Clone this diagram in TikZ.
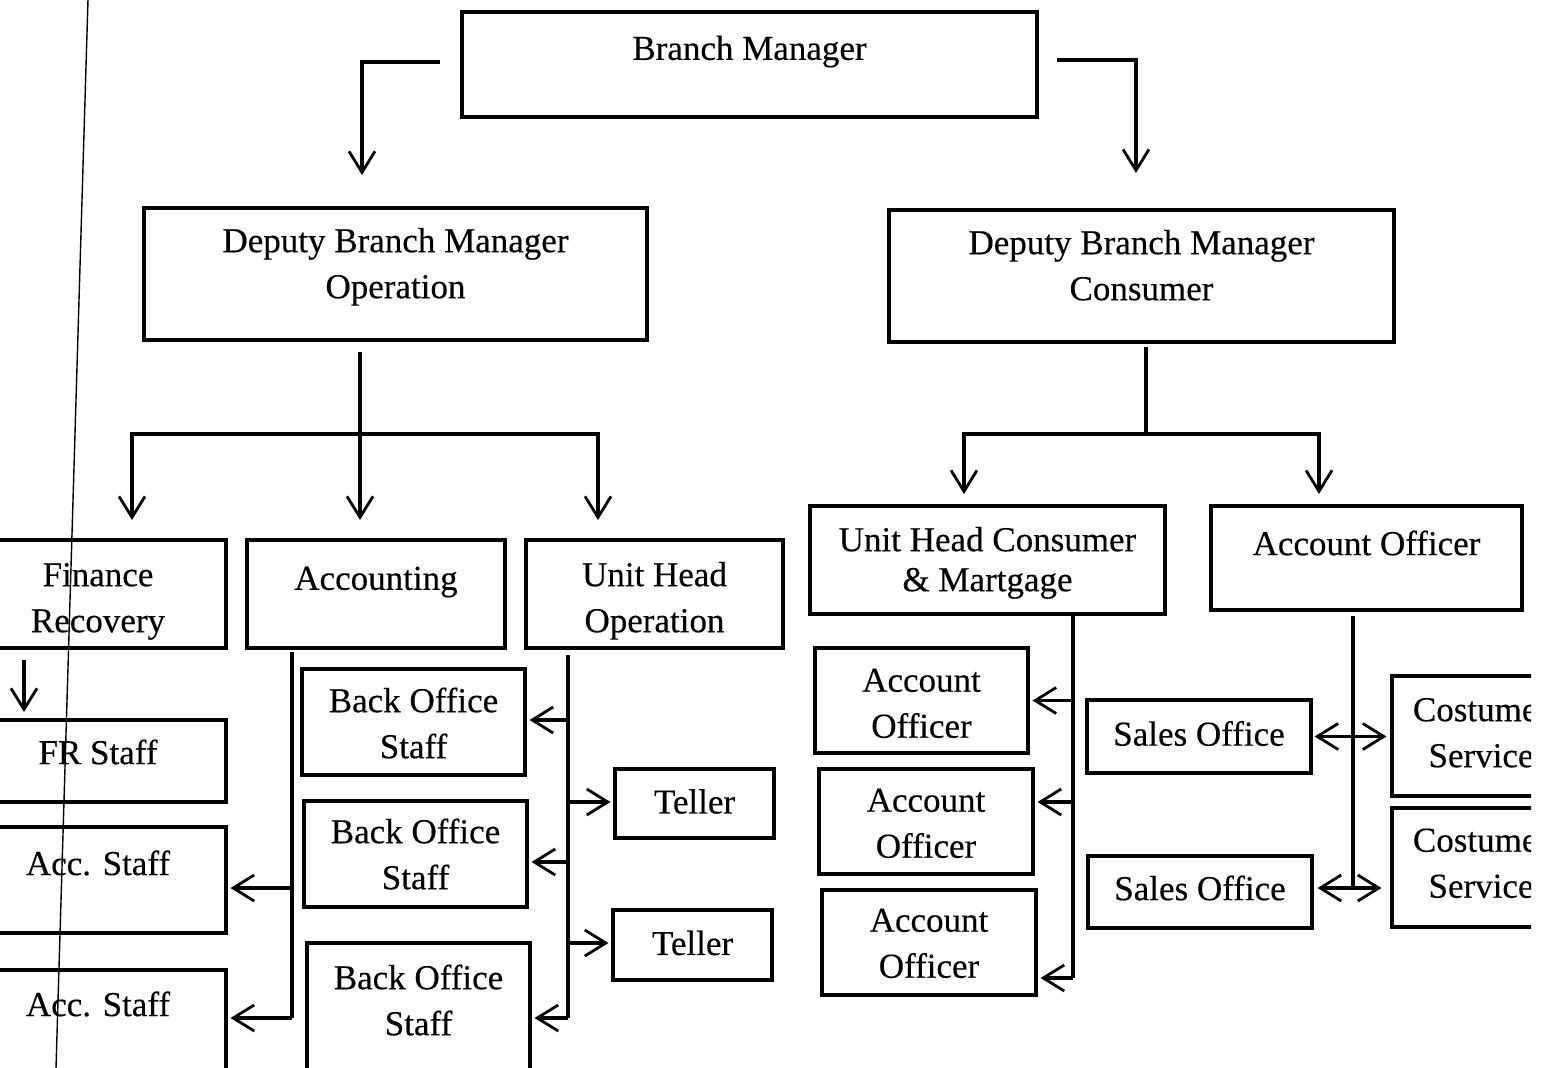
\documentclass[tikz,border=0pt]{standalone}
\usepackage{fontspec}
\setmainfont{Liberation Serif}[FakeBold=0.3]
\usetikzlibrary{arrows.meta,calc}
\newcommand\chartfs{\fontsize{35}{46}\selectfont}
\newcommand\lifted[2]{\raisebox{#1}[\height][\depth]{#2}}
\newcommand\liftedtwo[2]{\raisebox{#1}[\height][\depth]{\begin{tabular}{@{}c@{}}#2\end{tabular}}}
\tikzset{
  box/.style={draw, line width=3.1pt, rectangle, inner sep=0pt, align=center, font=\chartfs},
  conn/.style={draw, line width=3.4pt},
  arr/.style={conn, -{Straight Barb[length=21pt,width=26pt,line width=2.8pt]}},
  darr/.style={conn, {Straight Barb[length=21pt,width=26pt,line width=2.8pt]}-{Straight Barb[length=21pt,width=26pt,line width=2.8pt]}},
  scanline/.style={draw, line width=1.4pt}
}
\begin{document}
\begin{tikzpicture}[x=1pt,y=-1pt]
\useasboundingbox (0,0) rectangle (1550,1068);
\fill[white] (0,0) rectangle (1550,1068);
\clip (0,0) rectangle (1531,1068);

% top level
\node[box, minimum width=575pt, minimum height=105pt] (bm) at (749.5,64.5) {\lifted{13pt}{Branch Manager}};
\node[box, minimum width=503pt, minimum height=132pt] (dbo) at (395.5,274) {\liftedtwo{8pt}{Deputy Branch Manager\\Operation}};
\node[box, minimum width=505pt, minimum height=132pt] (dbc) at (1141.5,276) {\liftedtwo{8pt}{Deputy Branch Manager\\Consumer}};

% third level
\node[box, minimum width=256pt, minimum height=108pt] (fr) at (98,594) {\liftedtwo{-6pt}{Finance\\Recovery}};
\node[box, minimum width=258pt, minimum height=108pt] (acc) at (376,594) {\lifted{12pt}{Accounting}};
\node[box, minimum width=257pt, minimum height=108pt] (uho) at (654.5,594) {\liftedtwo{-6pt}{Unit Head\\Operation}};
\node[box, minimum width=355pt, minimum height=108pt] (uhc) at (987.5,560) {\liftedtwo{-2pt}{Unit Head Consumer\\[-6pt]\& Martgage}};
\node[box, minimum width=311pt, minimum height=104pt] (aot) at (1366.5,558) {\lifted{15pt}{Account Officer}};

% staff, left
\node[box, minimum width=256pt, minimum height=82pt] (frs) at (98,761) {\lifted{9pt}{FR Staff}};
\node[box, minimum width=256pt, minimum height=106pt] (as1) at (98,880) {\lifted{17pt}{Acc. Staff}};
\node[box, minimum width=256pt, minimum height=106pt] (as2) at (98,1023) {\lifted{19pt}{Acc. Staff}};

\node[box, minimum width=223pt, minimum height=106pt] (bos1) at (413.5,722) {\liftedtwo{-4pt}{Back Office\\Staff}};
\node[box, minimum width=223pt, minimum height=106pt] (bos2) at (415.5,854) {\liftedtwo{-3pt}{Back Office\\Staff}};
\node[box, minimum width=223pt, minimum height=140pt] (bos3) at (418.5,1013) {\liftedtwo{10pt}{Back Office\\Staff}};

\node[box, minimum width=159pt, minimum height=69pt] (t1) at (694.5,803.5) {\lifted{2pt}{Teller}};
\node[box, minimum width=159pt, minimum height=70pt] (t2) at (692.5,945) {\lifted{2pt}{Teller}};

% staff, right
\node[box, minimum width=213pt, minimum height=105pt] (ao1) at (921.5,700.5) {\liftedtwo{-5pt}{Account\\Officer}};
\node[box, minimum width=214pt, minimum height=105pt] (ao2) at (926,821.5) {\liftedtwo{-4pt}{Account\\Officer}};
\node[box, minimum width=214pt, minimum height=105pt] (ao3) at (929,942.5) {\liftedtwo{-3pt}{Account\\Officer}};

\node[box, minimum width=224pt, minimum height=73pt] (so1) at (1199,736.5) {\lifted{3pt}{Sales Office}};
\node[box, minimum width=224pt, minimum height=72pt] (so2) at (1200,892) {\lifted{4pt}{Sales Office}};

\node[box, minimum width=178pt, minimum height=120pt] (cs1) at (1481,736) {\liftedtwo{1pt}{Costumer\\Service}};
\node[box, minimum width=178pt, minimum height=119pt] (cs2) at (1481,867.5) {\liftedtwo{2pt}{Costumer\\Service}};

% Branch Manager to deputies
\coordinate (bmL) at (440,62);
\coordinate (dboIn) at (362,175);
\coordinate (bmR) at (1057,60);
\coordinate (dbcIn) at (1136,173);
\draw[arr] (bmL) -| (dboIn);
\draw[arr] (bmR) -| (dbcIn);

% Deputy Operation
\coordinate (dboOut) at (360,352);
\coordinate (dboJ) at (360,434);
\coordinate (frIn) at (132,520);
\coordinate (accIn) at (360,520);
\coordinate (uhoIn) at (598,520);
\draw[arr] (dboOut) -- (accIn);
\draw[arr] (dboJ) -| (frIn);
\draw[arr] (dboJ) -| (uhoIn);

% Deputy Consumer
\coordinate (dbcOut) at (1146,347);
\coordinate (dbcJ) at (1146,434);
\coordinate (uhcIn) at (964,494);
\coordinate (aotIn) at (1319,494);
\draw[conn] (dbcOut) -- (dbcJ);
\draw[arr] (dbcJ) -| (uhcIn);
\draw[arr] (dbcJ) -| (aotIn);

% Finance Recovery
\coordinate (frOut) at (24,660);
\coordinate (frsIn) at (24,712);
\draw[arr] (frOut) -- (frsIn);

% Accounting
\coordinate (accOut) at (292,652);
\coordinate (accEnd) at (292,1018);
\coordinate (as1In) at ([xshift=3pt,yshift=-8pt]as1.east);
\coordinate (as2In) at ($(as2.east |- accEnd)+(3,0)$);
\draw[conn] (accOut) -- (accEnd);
\draw[arr] (accOut |- as1In) -- (as1In);
\draw[arr] (accEnd) -- (as2In);

% Unit Head Operation
\coordinate (uhoOut) at (568,655);
\coordinate (uhoEnd) at (568,1018);
\coordinate (bos1In) at ([xshift=3pt,yshift=2pt]bos1.east);
\coordinate (bos2In) at ([xshift=3pt,yshift=-8pt]bos2.east);
\coordinate (bos3In) at ($(bos3.east |- uhoEnd)+(3,0)$);
\coordinate (t1In) at ([xshift=-3pt,yshift=1.5pt]t1.west);
\coordinate (t2In) at ([xshift=-3pt,yshift=2pt]t2.west);
\draw[conn] (uhoOut) -- (uhoEnd);
\draw[arr] (uhoOut |- bos1In) -- (bos1In);
\draw[arr] (uhoOut |- bos2In) -- (bos2In);
\draw[arr] (uhoEnd) -- (bos3In);
\draw[arr] (uhoOut |- t1In) -- (t1In);
\draw[arr] (uhoOut |- t2In) -- (t2In);

% Unit Head Consumer
\coordinate (uhcOut) at (1073,616);
\coordinate (uhcEnd) at (1073,978);
\coordinate (ao1In) at ([xshift=3pt]ao1.east);
\coordinate (ao2In) at ([xshift=3pt,yshift=19.5pt]ao2.east);
\coordinate (ao3In) at ($(ao3.east |- uhcEnd)+(3,0)$);
\draw[conn] (uhcOut) -- (uhcEnd);
\draw[arr] (uhcOut |- ao1In) -- (ao1In);
\draw[arr] (uhcOut |- ao2In) -- (ao2In);
\draw[arr] (uhcEnd) -- (ao3In);

% Account Officer
\coordinate (aotOut) at (1353,616);
\coordinate (aotEnd) at (1353,888);
\draw[conn] (aotOut) -- (aotEnd);
\draw[darr] ([xshift=2pt]so1.east) -- ([xshift=-4pt]so1.east -| cs1.west);
\draw[darr] ($(so2.east |- aotEnd)+(4,0)$) -- ($(cs2.west |- aotEnd)+(-9,0)$);

% scanned page margin line
\coordinate (scanTop) at (88,0);
\coordinate (scanBot) at (56,1068);
\draw[scanline] (scanTop) -- (scanBot);
\end{tikzpicture}
\end{document}
